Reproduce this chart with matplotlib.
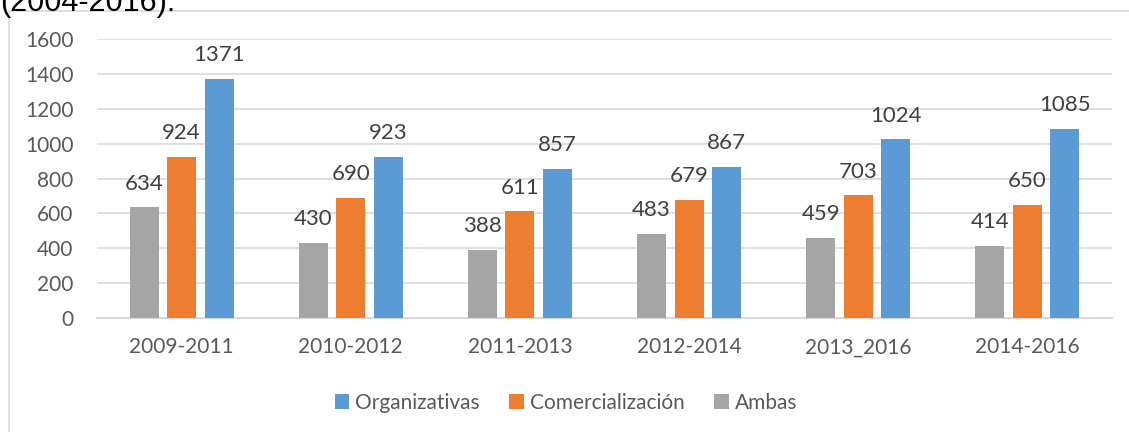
import matplotlib
matplotlib.use("Agg")
import matplotlib.pyplot as plt
import numpy as np
from matplotlib.patches import Rectangle

categories = ["2009-2011", "2010-2012", "2011-2013", "2012-2014", "2013_2016", "2014-2016"]
organizativas = [1371, 923, 857, 867, 1024, 1085]
comercializacion = [924, 690, 611, 679, 703, 650]
ambas = [634, 430, 388, 483, 459, 414]
yticks = [0, 200, 400, 600, 800, 1000, 1200, 1400, 1600]

c_org = "#5b9bd5"
c_com = "#ed7d31"
c_amb = "#a5a5a5"

plt.rcParams['font.family'] = ['Lato', 'DejaVu Sans']

W, H = 1129, 432
fig = plt.figure(figsize=(W / 100, H / 100), dpi=100)

# outer chart border (light gray)
fig.patches.append(Rectangle((9 / W, -0.1), 1.2, (H - 11) / H + 0.1, transform=fig.transFigure,
                             fill=False, edgecolor="#d9d9d9", linewidth=1.2))

# cropped caption at top
fig.text(0 / W, 1 - 11 / H, "(2004-2016).", fontsize=22, family=['Liberation Sans'],
         color="#000000", va='baseline', ha='left')

ax = fig.add_axes([97 / W, 1 - 318 / H, (1112 - 97) / W, (318 - 39) / H])
x = np.arange(len(categories)) + 0.5
bw = 29 / 169
step = 37.5 / 169
series = [(ambas, c_amb, "Ambas", -step), (comercializacion, c_com, "Comercialización", 0),
          (organizativas, c_org, "Organizativas", step)]
bars = {}
for vals, col, lab, off in series:
    b = ax.bar(x + off, vals, width=bw, color=col, label=lab, zorder=3)
    bars[lab] = b
    for xi, v in zip(x + off, vals):
        ax.annotate(str(v), (xi, v), xytext=(0, 10), textcoords='offset points',
                    ha='center', va='bottom', fontsize=16, color="#404040")

ax.set_xlim(0, len(categories))
ax.set_ylim(0, 1600)
ax.set_yticks(yticks)
ax.set_yticklabels([str(t) for t in yticks])
ax.set_xticks(x)
ax.set_xticklabels(categories)
ax.tick_params(axis='both', length=0, labelsize=15, colors="#595959")
ax.tick_params(axis='y', pad=17)
ax.tick_params(axis='x', pad=14)
ax.grid(axis='y', color="#d9d9d9", linewidth=1.2, zorder=0)
for s in ['top', 'right', 'left']:
    ax.spines[s].set_visible(False)
ax.spines['bottom'].set_color("#d9d9d9")
ax.spines['bottom'].set_linewidth(1.5)

handles = [bars["Organizativas"], bars["Comercialización"], bars["Ambas"]]
labels = ["Organizativas", "Comercialización", "Ambas"]
fig.legend(handles, labels, loc='center', bbox_to_anchor=(566 / W, 1 - 403 / H), ncol=3,
           frameon=False, fontsize=15, handlelength=0.7, handleheight=0.7, handletextpad=0.3,
           columnspacing=1.4, labelcolor="#595959")

fig.savefig("out.png", dpi=100)
